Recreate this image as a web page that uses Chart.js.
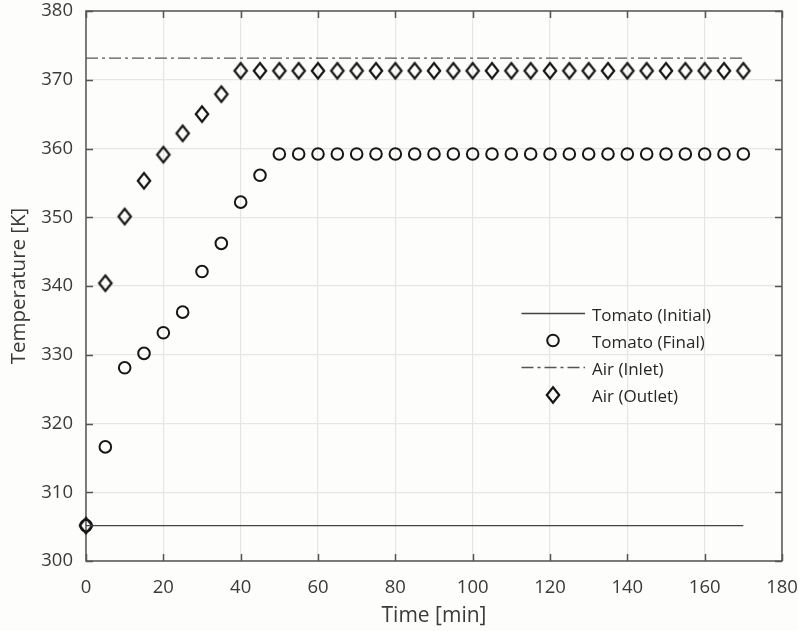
<!DOCTYPE html>
<html>
<head>
<meta charset="utf-8">
<script src="https://cdn.jsdelivr.net/npm/chart.js@4.4.1/dist/chart.umd.min.js"></script>
<style>
  html, body { margin: 0; padding: 0; background: #fdfdfc; }
  #wrap { width: 798px; height: 631px; position: relative; }
</style>
</head>
<body>
<div id="wrap"><canvas id="c"></canvas></div>
<script>
// Sampling times [min]
const timeMin = [0, 5, 10, 15, 20, 25, 30, 35, 40, 45, 50, 55, 60, 65, 70, 75, 80, 85,
                 90, 95, 100, 105, 110, 115, 120, 125, 130, 135, 140, 145, 150, 155, 160, 165, 170];

// Tomato temperature at the end of each step [K]
const tomatoFinal = [305.15, 316.6, 328.1, 330.2, 333.2, 336.2, 342.1, 346.2, 352.2, 356.1,
                     359.2, 359.2, 359.2, 359.2, 359.2, 359.2, 359.2, 359.2, 359.2, 359.2,
                     359.2, 359.2, 359.2, 359.2, 359.2, 359.2, 359.2, 359.2, 359.2, 359.2,
                     359.2, 359.2, 359.2, 359.2, 359.2];

// Air temperature leaving the dryer [K]
const airOutlet = [305.15, 340.4, 350.1, 355.3, 359.1, 362.2, 365.0, 367.9, 371.3, 371.3,
                   371.3, 371.3, 371.3, 371.3, 371.3, 371.3, 371.3, 371.3, 371.3, 371.3,
                   371.3, 371.3, 371.3, 371.3, 371.3, 371.3, 371.3, 371.3, 371.3, 371.3,
                   371.3, 371.3, 371.3, 371.3, 371.3];

// Constant reference levels over the run
const levelTime = [0, 170];
const tomatoInitial = [305.15, 305.15];
const airInlet = [373.15, 373.15];

const seriesLabels = ['Tomato (Initial)', 'Tomato (Final)', 'Air (Inlet)', 'Air (Outlet)'];
const xTicks = [0, 20, 40, 60, 80, 100, 120, 140, 160, 180];
const yTicks = [300, 310, 320, 330, 340, 350, 360, 370, 380];

const FONT = '"Open Sans", "DejaVu Sans", sans-serif';
const INK = '#3a3a3a';
const MARK = '#161616';

// Open diamond marker, slightly taller than wide
function diamondMarker() {
  const cv = document.createElement('canvas');
  cv.width = 18; cv.height = 22;
  const g = cv.getContext('2d');
  g.strokeStyle = MARK;
  g.lineWidth = 2.2;
  g.lineJoin = 'miter';
  g.beginPath();
  g.moveTo(9, 11 - 7.7);
  g.lineTo(9 + 6.2, 11);
  g.lineTo(9, 11 + 7.7);
  g.lineTo(9 - 6.2, 11);
  g.closePath();
  g.stroke();
  return cv;
}
const diamond = diamondMarker();

const pairs = (xs, ys) => xs.map((v, i) => ({ x: v, y: ys[i] }));

// Box with inward tick marks on all four sides
const frame = {
  id: 'frame',
  beforeDatasetsDraw(chart) {
    const { ctx, chartArea: a, scales: { x, y } } = chart;
    const L = 7;
    ctx.save();
    ctx.strokeStyle = '#555';
    ctx.lineWidth = 1.5;
    ctx.beginPath();
    xTicks.forEach(v => {
      const px = Math.round(x.getPixelForValue(v)) + 0.5;
      ctx.moveTo(px, a.bottom); ctx.lineTo(px, a.bottom - L);
      ctx.moveTo(px, a.top); ctx.lineTo(px, a.top + L);
    });
    yTicks.forEach(v => {
      const py = Math.round(y.getPixelForValue(v)) + 0.5;
      ctx.moveTo(a.left, py); ctx.lineTo(a.left + L, py);
      ctx.moveTo(a.right, py); ctx.lineTo(a.right - L, py);
    });
    ctx.stroke();
    ctx.strokeRect(a.left, a.top, a.right - a.left, a.bottom - a.top);
    ctx.restore();
  }
};

// Borderless key inside the plot
const key = {
  id: 'key',
  afterDraw(chart, args, opts) {
    const ctx = chart.ctx;
    ctx.save();
    chart.data.datasets.forEach((ds, i) => {
      const yRow = opts.top + i * opts.step;
      if (ds.showLine) {
        ctx.save();
        ctx.strokeStyle = ds.borderColor;
        ctx.lineWidth = ds.borderWidth;
        ctx.setLineDash(ds.borderDash || []);
        ctx.beginPath();
        ctx.moveTo(opts.lineFrom, yRow);
        ctx.lineTo(opts.lineTo, yRow);
        ctx.stroke();
        ctx.restore();
      }
      if (ds.pointRadius > 0) {
        const xm = Math.round((opts.lineFrom + opts.lineTo) / 2);
        if (ds.pointStyle instanceof HTMLCanvasElement) {
          ctx.drawImage(ds.pointStyle, xm - ds.pointStyle.width / 2, Math.round(yRow) - ds.pointStyle.height / 2);
        } else {
          ctx.strokeStyle = ds.pointBorderColor;
          ctx.lineWidth = ds.pointBorderWidth;
          ctx.beginPath();
          ctx.arc(xm, yRow, ds.pointRadius, 0, Math.PI * 2);
          ctx.stroke();
        }
      }
      ctx.fillStyle = '#262626';
      ctx.font = opts.fontSize + 'px ' + FONT;
      ctx.textAlign = 'left';
      ctx.textBaseline = 'middle';
      ctx.fillText(ds.label, opts.textX, yRow + opts.textShift);
    });
    ctx.restore();
  }
};

new Chart(document.getElementById('c'), {
  type: 'scatter',
  data: {
    datasets: [
      {
        label: seriesLabels[0],
        data: pairs(levelTime, tomatoInitial),
        showLine: true,
        borderColor: '#444',
        borderWidth: 1.4,
        pointRadius: 0,
        clip: false
      },
      {
        label: seriesLabels[1],
        data: pairs(timeMin, tomatoFinal),
        showLine: false,
        pointStyle: 'circle',
        pointRadius: 5.8,
        pointBorderWidth: 2,
        pointBorderColor: MARK,
        pointBackgroundColor: 'rgba(0,0,0,0)',
        clip: false
      },
      {
        label: seriesLabels[2],
        data: pairs(levelTime, airInlet),
        showLine: true,
        borderColor: '#555',
        borderWidth: 1.3,
        borderDash: [12, 4, 3, 4],
        pointRadius: 0,
        clip: false
      },
      {
        label: seriesLabels[3],
        data: pairs(timeMin, airOutlet),
        showLine: false,
        pointStyle: diamond,
        pointRadius: 7,
        clip: false
      }
    ]
  },
  options: {
    responsive: true,
    maintainAspectRatio: false,
    animation: false,
    events: [],
    layout: { padding: { top: 11, right: 16, left: 0, bottom: 0 }, autoPadding: false },
    plugins: {
      legend: { display: false },
      tooltip: { enabled: false },
      key: { top: 313.5, step: 27, lineFrom: 521.5, lineTo: 585, textX: 592, textShift: 3, fontSize: 17 }
    },
    scales: {
      x: {
        type: 'linear',
        min: 0, max: 180,
        afterBuildTicks: s => { s.ticks = xTicks.map(v => ({ value: v })); },
        afterFit: s => { s.height = 70; s.paddingLeft = 0; s.paddingRight = 0; },
        grid: { color: '#e6e6e6', lineWidth: 1.2, drawTicks: false },
        border: { display: false },
        ticks: { padding: 15.5, color: INK, font: { family: FONT, size: 18.5 }, maxRotation: 0 },
        title: { display: true, text: 'Time [min]', color: INK, font: { family: FONT, size: 21 }, padding: { top: 0, bottom: 2 } }
      },
      y: {
        type: 'linear',
        min: 300, max: 380,
        afterBuildTicks: s => { s.ticks = yTicks.map(v => ({ value: v })); },
        afterFit: s => { s.width = 86; s.paddingTop = 0; s.paddingBottom = 0; },
        grid: { color: '#e6e6e6', lineWidth: 1.2, drawTicks: false },
        border: { display: false },
        ticks: { padding: 13, color: INK, font: { family: FONT, size: 18.5 } },
        title: { display: true, text: 'Temperature [K]', color: INK, font: { family: FONT, size: 20.5 }, padding: { top: 7, bottom: 0 } }
      }
    }
  },
  plugins: [frame, key]
});
</script>
</body>
</html>
